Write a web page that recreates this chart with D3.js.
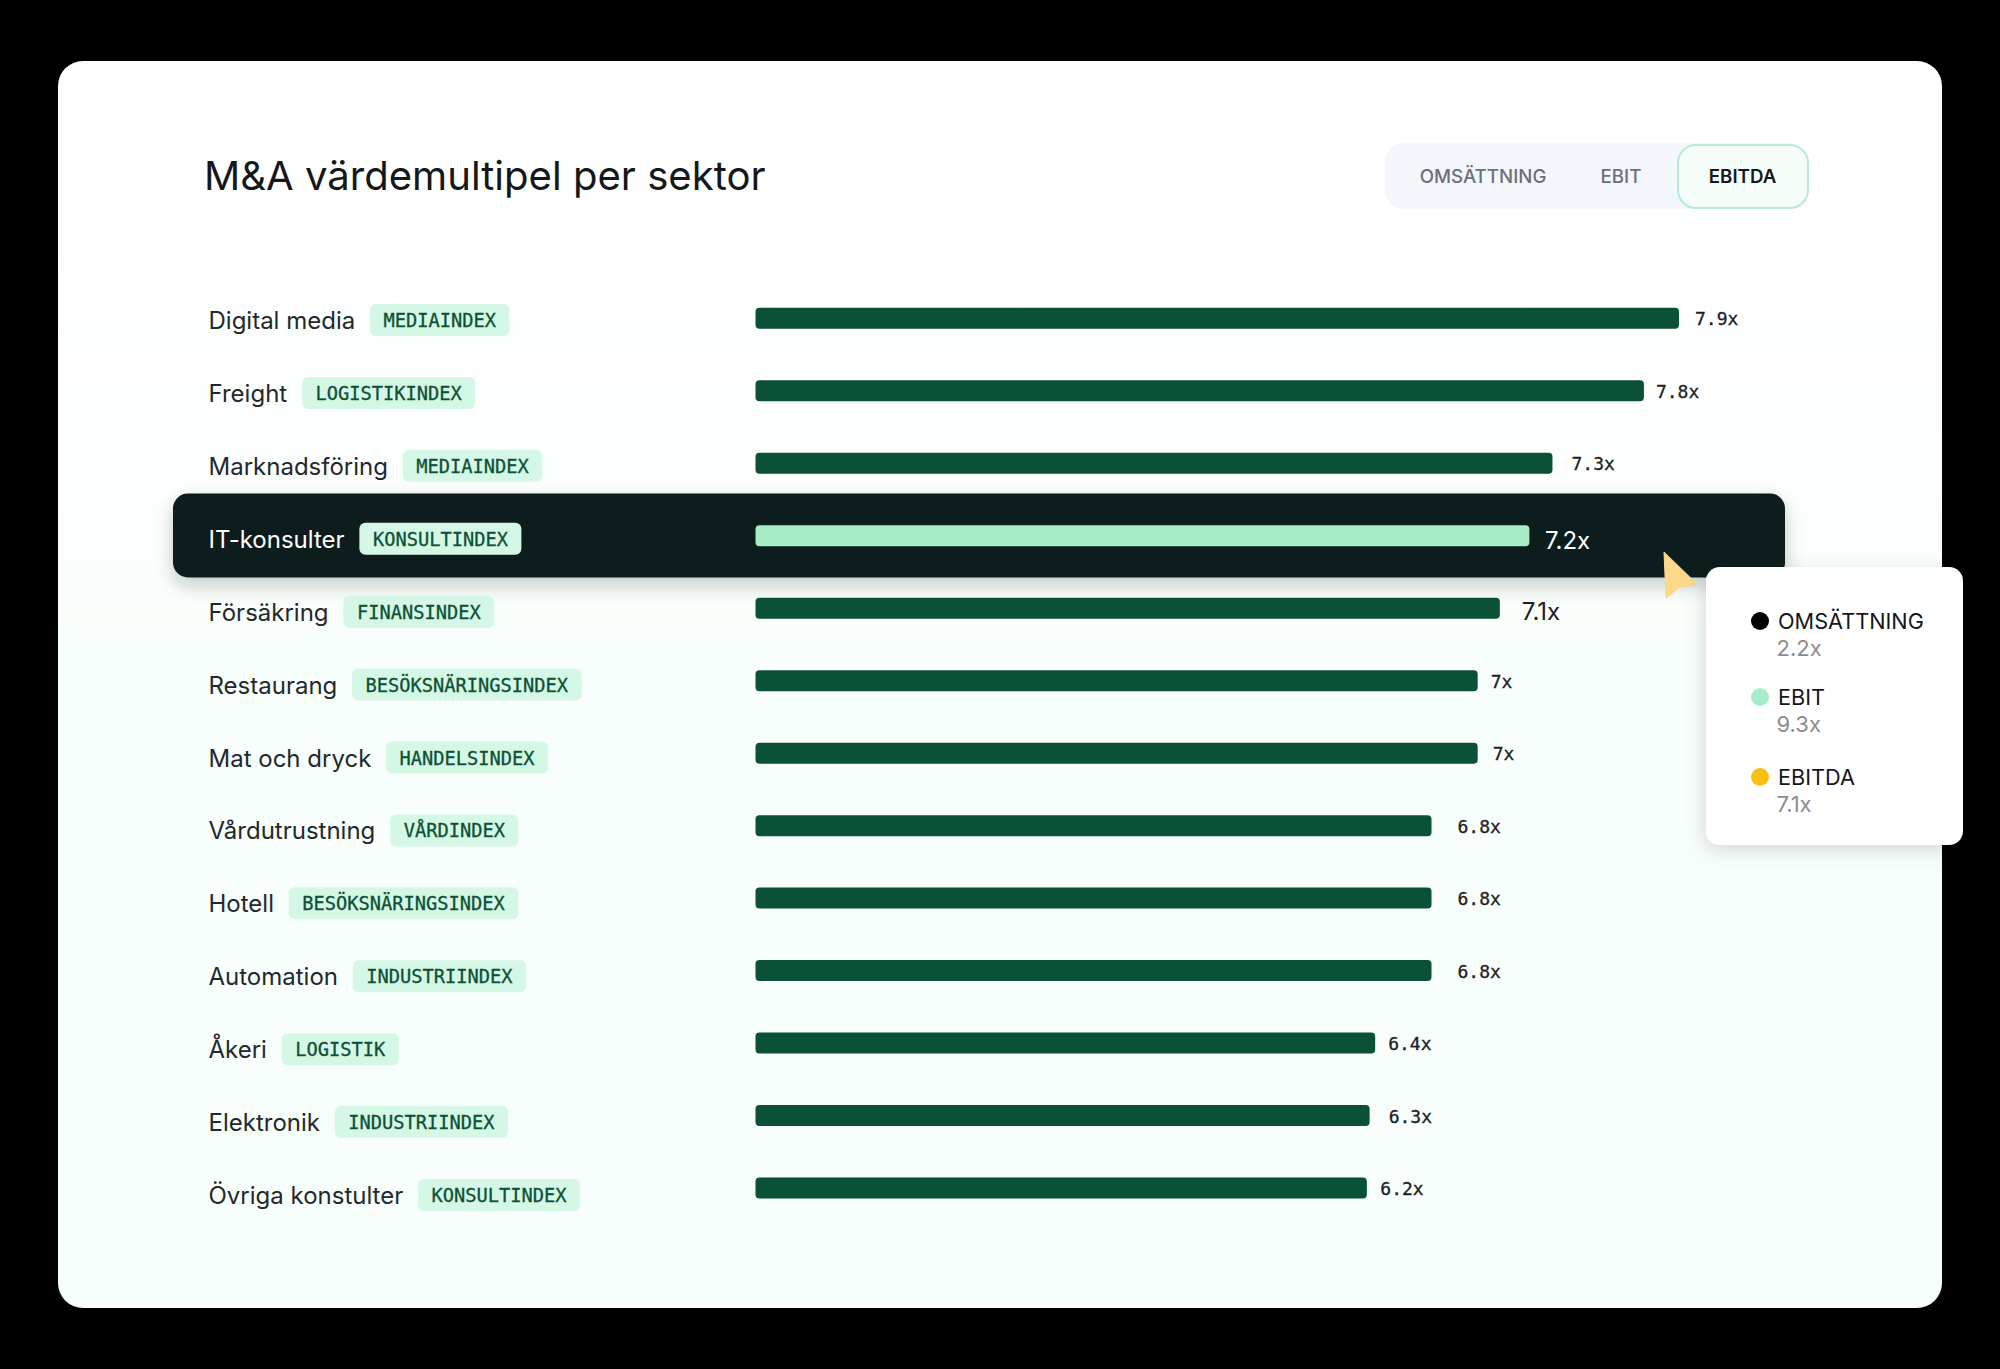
<!DOCTYPE html>
<html lang="sv">
<head>
<meta charset="utf-8">
<title>M&amp;A värdemultipel per sektor</title>
<script src="https://cdn.jsdelivr.net/npm/d3@7"></script>
<style>
  html, body { margin: 0; background: #000; }
  svg { display: block; }
  text { font-family: Inter, sans-serif; }
  .mono { font-family: "DejaVu Sans Mono", monospace; }
</style>
</head>
<body>
<div id="container"></div>
<script>
const sectors = ["Digital media", "Freight", "Marknadsföring", "IT-konsulter", "Försäkring", "Restaurang", "Mat och dryck", "Vårdutrustning", "Hotell", "Automation", "Åkeri", "Elektronik", "Övriga konstulter"];
const indexNames = ["MEDIAINDEX", "LOGISTIKINDEX", "MEDIAINDEX", "KONSULTINDEX", "FINANSINDEX", "BESÖKSNÄRINGSINDEX", "HANDELSINDEX", "VÅRDINDEX", "BESÖKSNÄRINGSINDEX", "INDUSTRIINDEX", "LOGISTIK", "INDUSTRIINDEX", "KONSULTINDEX"];
const multipleLabels = ["7.9x", "7.8x", "7.3x", "7.2x", "7.1x", "7x", "7x", "6.8x", "6.8x", "6.8x", "6.4x", "6.3x", "6.2x"];
// bar length as % of the longest bar (bars are not proportional to the labels)
const barShare = [100, 96.2, 86.3, 83.8, 80.6, 78.2, 78.2, 73.2, 73.2, 73.2, 67.1, 66.5, 66.2];

const toggleLabels = ["OMSÄTTNING", "EBIT", "EBITDA"];
const tooltipSeries = ["OMSÄTTNING", "EBIT", "EBITDA"];
const tooltipValues = ["2.2x", "9.3x", "7.1x"];
const tooltipColors = ["#000000", "#a6ecc9", "#f8c013"];

const width = 2000;
const height = 1369;
const activeRow = 3;
const plainLabelRow = 4; // this label is caught mid fade in the source, drawn in the sans font

// gap from bar end to its label, each one differs in the reference
const labelGaps = [16, 12, 19, 15.5, 22, 13, 15, 26, 26, 26, 13, 19, 13.5];

const x = d3.scaleLinear().domain([0, 100]).range([755.5, 1679]);
// bars and the name column run on slightly different pitches in the reference
const yBar = d3.scalePoint().domain(sectors).range([318.3, 1188]);
const yName = d3.scalePoint().domain(sectors).range([320, 1195]);

const svg = d3.select("#container").append("svg")
    .attr("width", width)
    .attr("height", height)
    .attr("viewBox", [0, 0, width, height]);

const defs = svg.append("defs");
const grad = defs.append("linearGradient")
    .attr("id", "cardFill")
    .attr("x1", 0).attr("x2", 0).attr("y1", 0).attr("y2", 1);
grad.append("stop").attr("offset", "0.14").attr("stop-color", "#ffffff");
grad.append("stop").attr("offset", "0.5").attr("stop-color", "#f8fefb");
grad.append("stop").attr("offset", "1").attr("stop-color", "#f8fefb");

const rowShadow = defs.append("filter").attr("id", "rowShadow")
    .attr("x", "-5%").attr("y", "-40%").attr("width", "110%").attr("height", "200%");
rowShadow.append("feDropShadow")
    .attr("dx", 0).attr("dy", 8).attr("stdDeviation", 9)
    .attr("flood-color", "#0f1c1f").attr("flood-opacity", 0.22);

const tipShadow = defs.append("filter").attr("id", "tipShadow")
    .attr("x", "-20%").attr("y", "-20%").attr("width", "140%").attr("height", "140%");
tipShadow.append("feDropShadow")
    .attr("dx", -2).attr("dy", 5).attr("stdDeviation", 10)
    .attr("flood-color", "#000").attr("flood-opacity", 0.14);

/* ------------------ CARD ------------------ */
svg.append("rect")
    .attr("x", 58).attr("y", 61)
    .attr("width", 1884).attr("height", 1247)
    .attr("rx", 25)
    .attr("fill", "url(#cardFill)");

svg.append("text")
    .attr("x", 204).attr("y", 190)
    .attr("font-size", 40.1)
    .attr("font-weight", 400)
    .attr("fill", "#14181b")
    .text("M&A värdemultipel per sektor");

/* ------------------ TOGGLE ------------------ */
svg.append("rect")
    .attr("x", 1385).attr("y", 143)
    .attr("width", 420).attr("height", 66)
    .attr("rx", 18)
    .attr("fill", "#f3f6fb");
svg.append("rect")
    .attr("x", 1678).attr("y", 145)
    .attr("width", 130).attr("height", 63)
    .attr("rx", 18)
    .attr("fill", "#f5fdf9")
    .attr("stroke", "#b7ebd7")
    .attr("stroke-width", 2);

const toggleX = [1483, 1621, 1742.5];
svg.append("g").selectAll("text")
    .data(toggleLabels)
    .join("text")
    .attr("x", (d, i) => toggleX[i])
    .attr("y", 183)
    .attr("text-anchor", "middle")
    .attr("font-size", 18.7)
    .attr("font-weight", (d, i) => i === 2 ? 600 : 500)
    .attr("fill", (d, i) => i === 2 ? "#14181b" : "#6b7078")
    .text(d => d);

/* ------------------ HIGHLIGHT ROW ------------------ */
svg.append("rect")
    .attr("x", 173).attr("y", 493.5)
    .attr("width", 1612).attr("height", 84)
    .attr("rx", 15)
    .attr("fill", "#0e1a1d")
    .attr("filter", "url(#rowShadow)");

/* ------------------ ROWS ------------------ */
const rowData = sectors.map((s, i) => ({sector: s, index: indexNames[i], label: multipleLabels[i], share: barShare[i], i}));

const nameRows = svg.append("g").selectAll("g")
    .data(rowData)
    .join("g")
    .attr("transform", d => `translate(0,${yName(d.sector)})`);

const names = nameRows.append("text")
    .attr("x", 208.5).attr("y", 9)
    .attr("font-size", 24)
    .attr("font-weight", 400)
    .attr("fill", d => d.i === activeRow ? "#ffffff" : "#23282b")
    .text(d => d.sector);

nameRows.each(function(d, i) {
    const g = d3.select(this);
    const nameEnd = 208.5 + names.nodes()[i].getComputedTextLength();
    const badgeX = nameEnd + 14.8;
    const txt = g.append("text")
        .attr("class", "mono")
        .attr("x", badgeX + 13.5).attr("y", 7)
        .attr("font-size", 18.7)
        .attr("fill", "#0c5136")
        .attr("stroke", "#0c5136")
        .attr("stroke-width", 0.3)
        .text(d.index);
    g.insert("rect", "text.mono")
        .attr("x", badgeX).attr("y", -16)
        .attr("width", txt.node().getComputedTextLength() + 27).attr("height", 32)
        .attr("rx", 6)
        .attr("fill", "#d5f7e5");
});

const barRows = svg.append("g").selectAll("g")
    .data(rowData)
    .join("g")
    .attr("transform", d => `translate(0,${yBar(d.sector)})`);

barRows.append("rect")
    .attr("x", x(0))
    .attr("y", -10.5)
    .attr("width", d => x(d.share) - x(0))
    .attr("height", 21)
    .attr("rx", 4)
    .attr("fill", d => d.i === activeRow ? "#a6edc6" : "#0b5135");

barRows.append("text")
    .attr("class", d => d.i === activeRow || d.i === plainLabelRow ? "" : "mono")
    .attr("x", d => x(d.share) + labelGaps[d.i])
    .attr("y", d => d.i === activeRow ? 13 : d.i === plainLabelRow ? 12 : 7)
    .attr("font-size", d => d.i === activeRow || d.i === plainLabelRow ? 24 : 18)
    .attr("font-weight", 400)
    .attr("fill", d => d.i === activeRow ? "#ffffff" : "#1c2023")
    .attr("stroke", d => d.i === activeRow || d.i === plainLabelRow ? "none" : "#1c2023")
    .attr("stroke-width", 0.3)
    .text(d => d.label);

/* ------------------ CURSOR ------------------ */
svg.append("path")
    .attr("d", "M1664,552L1698,585L1680,587L1666,598Z")
    .attr("fill", "#fbd88a")
    .attr("stroke", "#fbd88a")
    .attr("stroke-width", 1)
    .attr("stroke-linejoin", "round");

/* ------------------ TOOLTIP ------------------ */
svg.append("rect")
    .attr("x", 1706).attr("y", 567)
    .attr("width", 257).attr("height", 278)
    .attr("rx", 14)
    .attr("fill", "#ffffff")
    .attr("filter", "url(#tipShadow)");

const tipY = d3.scaleOrdinal().domain(tooltipSeries).range([621, 697, 777]);
const tipRows = svg.append("g").selectAll("g")
    .data(tooltipSeries.map((s, i) => ({s, v: tooltipValues[i], c: tooltipColors[i]})))
    .join("g")
    .attr("transform", d => `translate(0,${tipY(d.s)})`);

tipRows.append("circle")
    .attr("cx", 1760).attr("r", 9)
    .attr("fill", d => d.c);
tipRows.append("text")
    .attr("x", 1778).attr("y", 8)
    .attr("font-size", 21.7)
    .attr("fill", "#14181b")
    .text(d => d.s);
tipRows.append("text")
    .attr("x", 1776.5).attr("y", 34.5)
    .attr("font-size", 22)
    .attr("fill", "#8c8c8c")
    .text(d => d.v);
</script>
</body>
</html>
